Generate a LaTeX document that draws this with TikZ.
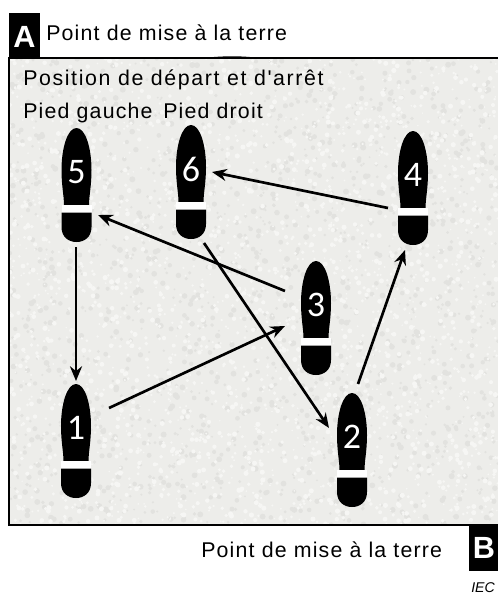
\documentclass[tikz,border=0pt]{standalone}
\usepackage{fontspec}
\setmainfont{Liberation Sans}
\newfontfamily\digitfont{Carlito}
\newfontfamily\spreadfont[LetterSpace=5.6]{Liberation Sans}
\newfontfamily\widefont[LetterSpace=7.6]{Liberation Sans}
\definecolor{fieldbase}{HTML}{EDEDEA}
\definecolor{speckdark}{HTML}{E2E2DF}
\definecolor{specklight}{HTML}{F6F6F4}
\usetikzlibrary{arrows.meta}
\tikzset{
  labeltext/.style={font=\spreadfont\fontsize{16pt}{18pt}\selectfont,anchor=base west,inner sep=0pt,text=black},
  widelabel/.style={labeltext,font=\widefont\fontsize{16pt}{18pt}\selectfont},
  cornerbox/.style={fill=black,draw=none},
  cornerletter/.style={font=\fontsize{23pt}{25pt}\selectfont\bfseries,text=white,inner sep=0pt},
  digitlabel/.style={font=\digitfont\fontsize{27pt}{29pt}\selectfont,text=white,inner sep=0pt},
  walk/.style={draw=black,line width=2pt,-{Stealth[length=11pt,width=9pt]}},
}
\newcommand{\shoe}[3]{% name, centre x, top y
  \begin{scope}[shift={(#2,#3)}]
    \fill[black] (0,0) .. controls (-9,0) and (-15,20) .. (-15,42)
      .. controls (-15,58) and (-12.5,68) .. (-12.5,77) -- (12.5,77)
      .. controls (12.5,68) and (15,58) .. (15,42)
      .. controls (15,20) and (9,0) .. (0,0) -- cycle;
    \fill[white] (-15,77) rectangle (15,84.5);
    \fill[black] (-15,84.5) -- (15,84.5) -- (15,99)
      .. controls (15,109) and (8,114) .. (0,114)
      .. controls (-8,114) and (-15,109) .. (-15,99) -- cycle;
    \node[digitlabel] (#1) at (0,44) {#1};
  \end{scope}}
\begin{document}
\begin{tikzpicture}[x=0.75pt,y=-0.75pt]
\useasboundingbox (0,0) rectangle (498,596);
\fill[white] (0,0) rectangle (498,596);
\begin{scope}
  \clip (9,58) rectangle (498,525);
  \fill[fieldbase] (9,58) rectangle (498,525);
  \pgfmathsetseed{42}
  \foreach \i in {1,...,1800}{
    \pgfmathsetmacro{\px}{9+489*rnd}
    \pgfmathsetmacro{\py}{58+467*rnd}
    \pgfmathsetmacro{\pr}{1+2*rnd}
    \fill[speckdark] (\px,\py) circle[radius=\pr];
  }
  \foreach \i in {1,...,2600}{
    \pgfmathsetmacro{\px}{9+489*rnd}
    \pgfmathsetmacro{\py}{58+467*rnd}
    \pgfmathsetmacro{\pr}{0.8+1.8*rnd}
    \fill[specklight] (\px,\py) circle[radius=\pr];
  }
\end{scope}
\draw[black,line width=1.2pt] (498,58) -- (9,58) -- (9,525) -- (498,525);
\fill[black] (205,57.8) .. controls (225,55.8) and (240,55.8) .. (258,57.8) -- cycle;
\fill[cornerbox] (9,13) rectangle (40,58);
\fill[cornerbox] (469,525) rectangle (498,571);
\node[cornerletter] (A) at (24.5,37) {A};
\node[cornerletter] (B) at (484,548) {B};
\node[labeltext] (t1) at (46,40) {Point de mise à la terre};
\node[widelabel] (t2) at (23,85) {Position de départ et d'arrêt};
\node[labeltext] (t3) at (23,118) {Pied gauche};
\node[labeltext] (t4) at (163,118) {Pied droit};
\node[labeltext] (t5) at (201,557) {Point de mise à la terre};
\node[font=\fontsize{10.6pt}{12pt}\selectfont\itshape,anchor=base west,inner sep=0pt] (iec) at (471,592.5) {IEC};
\shoe{5}{76.5}{128}
\shoe{6}{191}{125}
\shoe{4}{413}{131}
\shoe{3}{316}{261}
\shoe{2}{352}{393}
\shoe{1}{76}{384}
\coordinate (s5) at (76,247);   \coordinate (e1) at (76,381);
\coordinate (s1) at (109,408);  \coordinate (e3) at (285,326);
\coordinate (s3) at (285,291);  \coordinate (e5) at (98,215);
\coordinate (s4) at (388,208);  \coordinate (e6) at (212,172);
\coordinate (s6) at (204,243);  \coordinate (e2) at (329,428);
\coordinate (s2) at (358,384);  \coordinate (e4) at (405,250);
\draw[walk] (s5) -- (e1);
\draw[walk] (s1) -- (e3);
\draw[walk] (s3) -- (e5);
\draw[walk] (s4) -- (e6);
\draw[walk] (s6) -- (e2);
\draw[walk] (s2) -- (e4);
\end{tikzpicture}
\end{document}
